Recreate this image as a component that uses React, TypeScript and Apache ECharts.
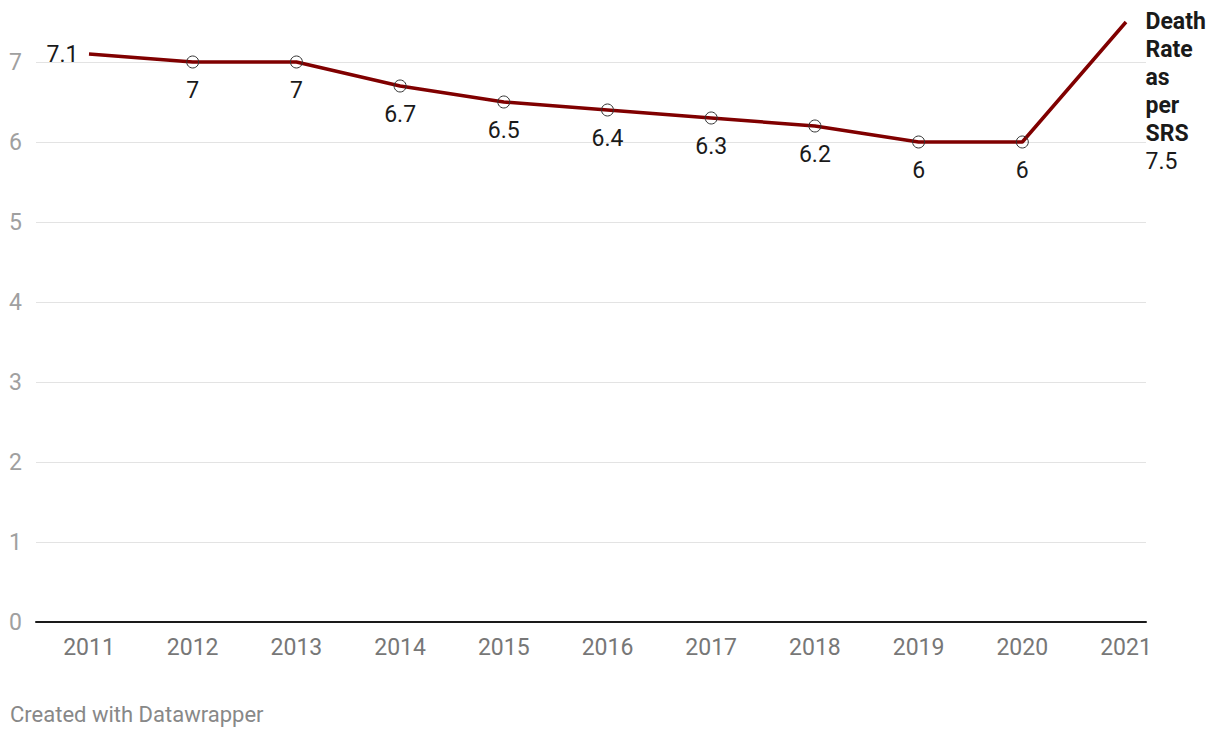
import React, { useEffect, useRef } from "react";
import * as echarts from "echarts";

const years = [2011, 2012, 2013, 2014, 2015, 2016, 2017, 2018, 2019, 2020, 2021];
const deathRate = [7.1, 7, 7, 6.7, 6.5, 6.4, 6.3, 6.2, 6, 6, 7.5];
const yTicks = [0, 1, 2, 3, 4, 5, 6, 7];
const seriesName = "Death\nRate\nas\nper\nSRS";
const footer = "Created with Datawrapper";

export default function App() {
  const ref = useRef<HTMLDivElement>(null);
  useEffect(() => {
    if (!ref.current) return;
    const chart = echarts.init(ref.current, null, { renderer: "svg" });
    const last = years.length - 1;
    const hidden = { color: "rgba(0,0,0,0)", borderColor: "rgba(0,0,0,0)" };
    const data = years.map((y, i) => {
      const item: any = { value: [y, deathRate[i]] };
      if (i === 0) {
        item.itemStyle = hidden;
        item.label = { position: "left", distance: 4 };
      } else if (i === last) {
        item.itemStyle = hidden;
        item.label = {
          position: [26, -8],
          verticalAlign: "top",
          align: "left",
          lineHeight: 28,
          fontSize: 23,
          formatter: () => `{b|${seriesName}}\n${deathRate[i]}`,
          rich: {
            b: { fontWeight: "bold", fontSize: 23, lineHeight: 28, color: "#1a1a1a", fontFamily: "Roboto" },
          },
        };
      }
      return item;
    });
    const splitColors = [...yTicks.map(() => "#e3e3e3"), "rgba(0,0,0,0)"];
    chart.setOption({
      animation: false,
      textStyle: { fontFamily: "Roboto" },
      grid: { left: 36, right: 74, top: 22, bottom: 116, containLabel: false },
      xAxis: {
        type: "value",
        min: 2011 - 53 / 103.7,
        max: 2021 + 20 / 103.7,
        axisLine: { show: true, onZero: true, lineStyle: { color: "#1a1a1a", width: 2 } },
        axisTick: { show: false },
        splitLine: { show: false },
        axisLabel: {
          customValues: years,
          formatter: (v: number) => String(v),
          color: "#777",
          fontSize: 23,
          margin: 14,
          fontFamily: "Roboto",
        },
      },
      yAxis: {
        type: "value",
        min: 0,
        max: 7.5,
        interval: 1,
        axisLine: { show: false },
        axisTick: { show: false },
        splitLine: { lineStyle: { color: splitColors, width: 1 } },
        axisLabel: {
          color: "#a0a0a0",
          fontSize: 23,
          margin: 14,
          fontFamily: "Roboto",
          formatter: (v: number) => (yTicks.includes(v) ? String(v) : ""),
        },
      },
      series: [
        {
          type: "line",
          data,
          symbol: "circle",
          symbolSize: 12,
          showAllSymbol: true,
          itemStyle: { color: "rgba(255,255,255,0)", borderColor: "#333", borderWidth: 1 },
          lineStyle: { color: "#800000", width: 3.5 },
          label: {
            show: true,
            position: "bottom",
            distance: 10,
            color: "#1a1a1a",
            fontSize: 23,
            fontFamily: "Roboto",
          },
          labelLayout: { hideOverlap: false },
          emphasis: { disabled: true },
          z: 3,
        },
      ],
      graphic: [
        {
          type: "text",
          left: 10,
          top: 703,
          style: { text: footer, fill: "#888", fontSize: 22, fontFamily: "Roboto" },
        },
      ],
    });
    return () => chart.dispose();
  }, []);
  return <div ref={ref} style={{ width: 1220, height: 738, position: "absolute", left: 0, top: 0 }} />;
}
